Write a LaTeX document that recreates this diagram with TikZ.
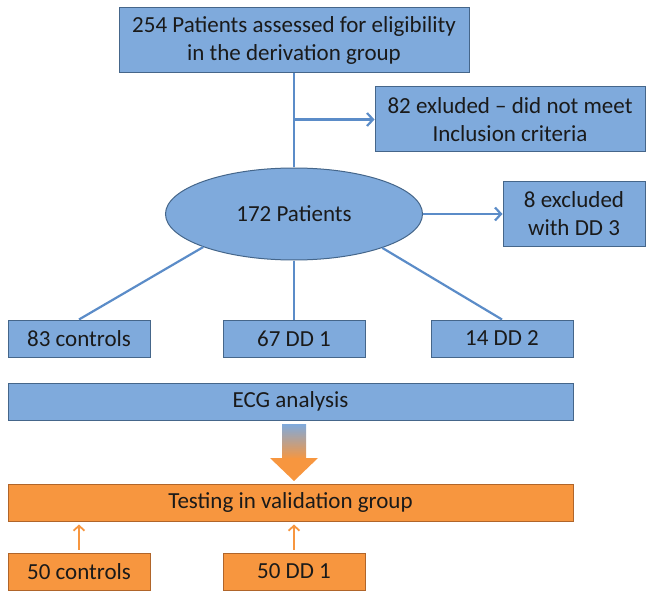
\documentclass[tikz,border=0pt]{standalone}
\usepackage{fontspec}
\setmainfont{Carlito}
\usetikzlibrary{positioning,arrows.meta,shapes.geometric}
\definecolor{boxblue}{HTML}{7FAADC}
\definecolor{edgeblue}{HTML}{45668A}
\definecolor{lineblue}{HTML}{5B8CC8}
\definecolor{boxorange}{HTML}{F7963F}
\definecolor{edgeorange}{HTML}{B0652A}
\definecolor{txt}{HTML}{1A1A1A}

\begin{document}
\begin{tikzpicture}[
  x=1pt, y=-1pt,
  bx/.style={draw=edgeblue, fill=boxblue, line width=1pt, inner sep=0pt, align=center,
    font=\fontsize{23}{28}\selectfont, text=txt},
  ob/.style={bx, draw=edgeorange, fill=boxorange},
  ln/.style={draw=lineblue, line width=2.2pt},
  arr/.style={ln, -{Straight Barb[length=6pt, width=13pt]}},
  oarr/.style={draw=boxorange, line width=1.8pt, -{Straight Barb[length=5pt, width=11pt]},
    shorten <=3pt, shorten >=3pt},
]
  \useasboundingbox (0,0) rectangle (651,599);

  % Derivation group
  \node[bx, minimum width=350, minimum height=65] (assess) at (294, 40.5)
    {254 Patients assessed for eligibility\\in the derivation group};
  \node[bx, minimum width=270, minimum height=65] (excl) at (510, 119.5)
    {82 exluded – did not meet\\Inclusion criteria};
  \node[bx, ellipse, minimum width=257, minimum height=92] (pat) at (294, 214) {172 Patients};
  \node[bx, minimum width=142, minimum height=65] (dd3) at (574, 214) {8 excluded\\with DD 3};

  \draw[ln] (assess) -- (pat);
  \draw[arr] (assess.south |- excl.west) -- (excl.west);
  \draw[arr] (pat.east) -- (dd3.west);

  % Groups
  \node[bx, minimum width=142, minimum height=37] (ctrl) at (79, 338.5) {83 controls};
  \node[bx, minimum width=142, minimum height=37] (dd1) at (294, 338.5) {67 DD 1};
  \node[bx, minimum width=142, minimum height=37] (dd2) at (502, 338.5) {14 DD 2};

  \draw[ln] (pat.-160) -- (ctrl.north);
  \draw[ln] (pat.south) -- (dd1.north);
  \draw[ln] (pat.-21) -- (dd2.north);

  % Analysis and validation
  \node[bx, minimum width=565, minimum height=37] (ecg) at (290.5, 401.5) {ECG analysis};
  \node[ob, minimum width=565, minimum height=37] (test) at (290.5, 502.5) {Testing in validation group};

  \shade[top color=boxblue, bottom color=boxorange] (282,424) rectangle (306,459);
  \fill[boxorange] (270,458) -- (318,458) -- (294,481) -- cycle;

  \node[ob, minimum width=142, minimum height=37] (vctrl) at (79, 571.5) {50 controls};
  \node[ob, minimum width=142, minimum height=37] (vdd1) at (294, 571.5) {50 DD 1};

  \draw[oarr] (vctrl.north) -- (vctrl.north |- test.south);
  \draw[oarr] (vdd1.north) -- (vdd1.north |- test.south);
\end{tikzpicture}
\end{document}
